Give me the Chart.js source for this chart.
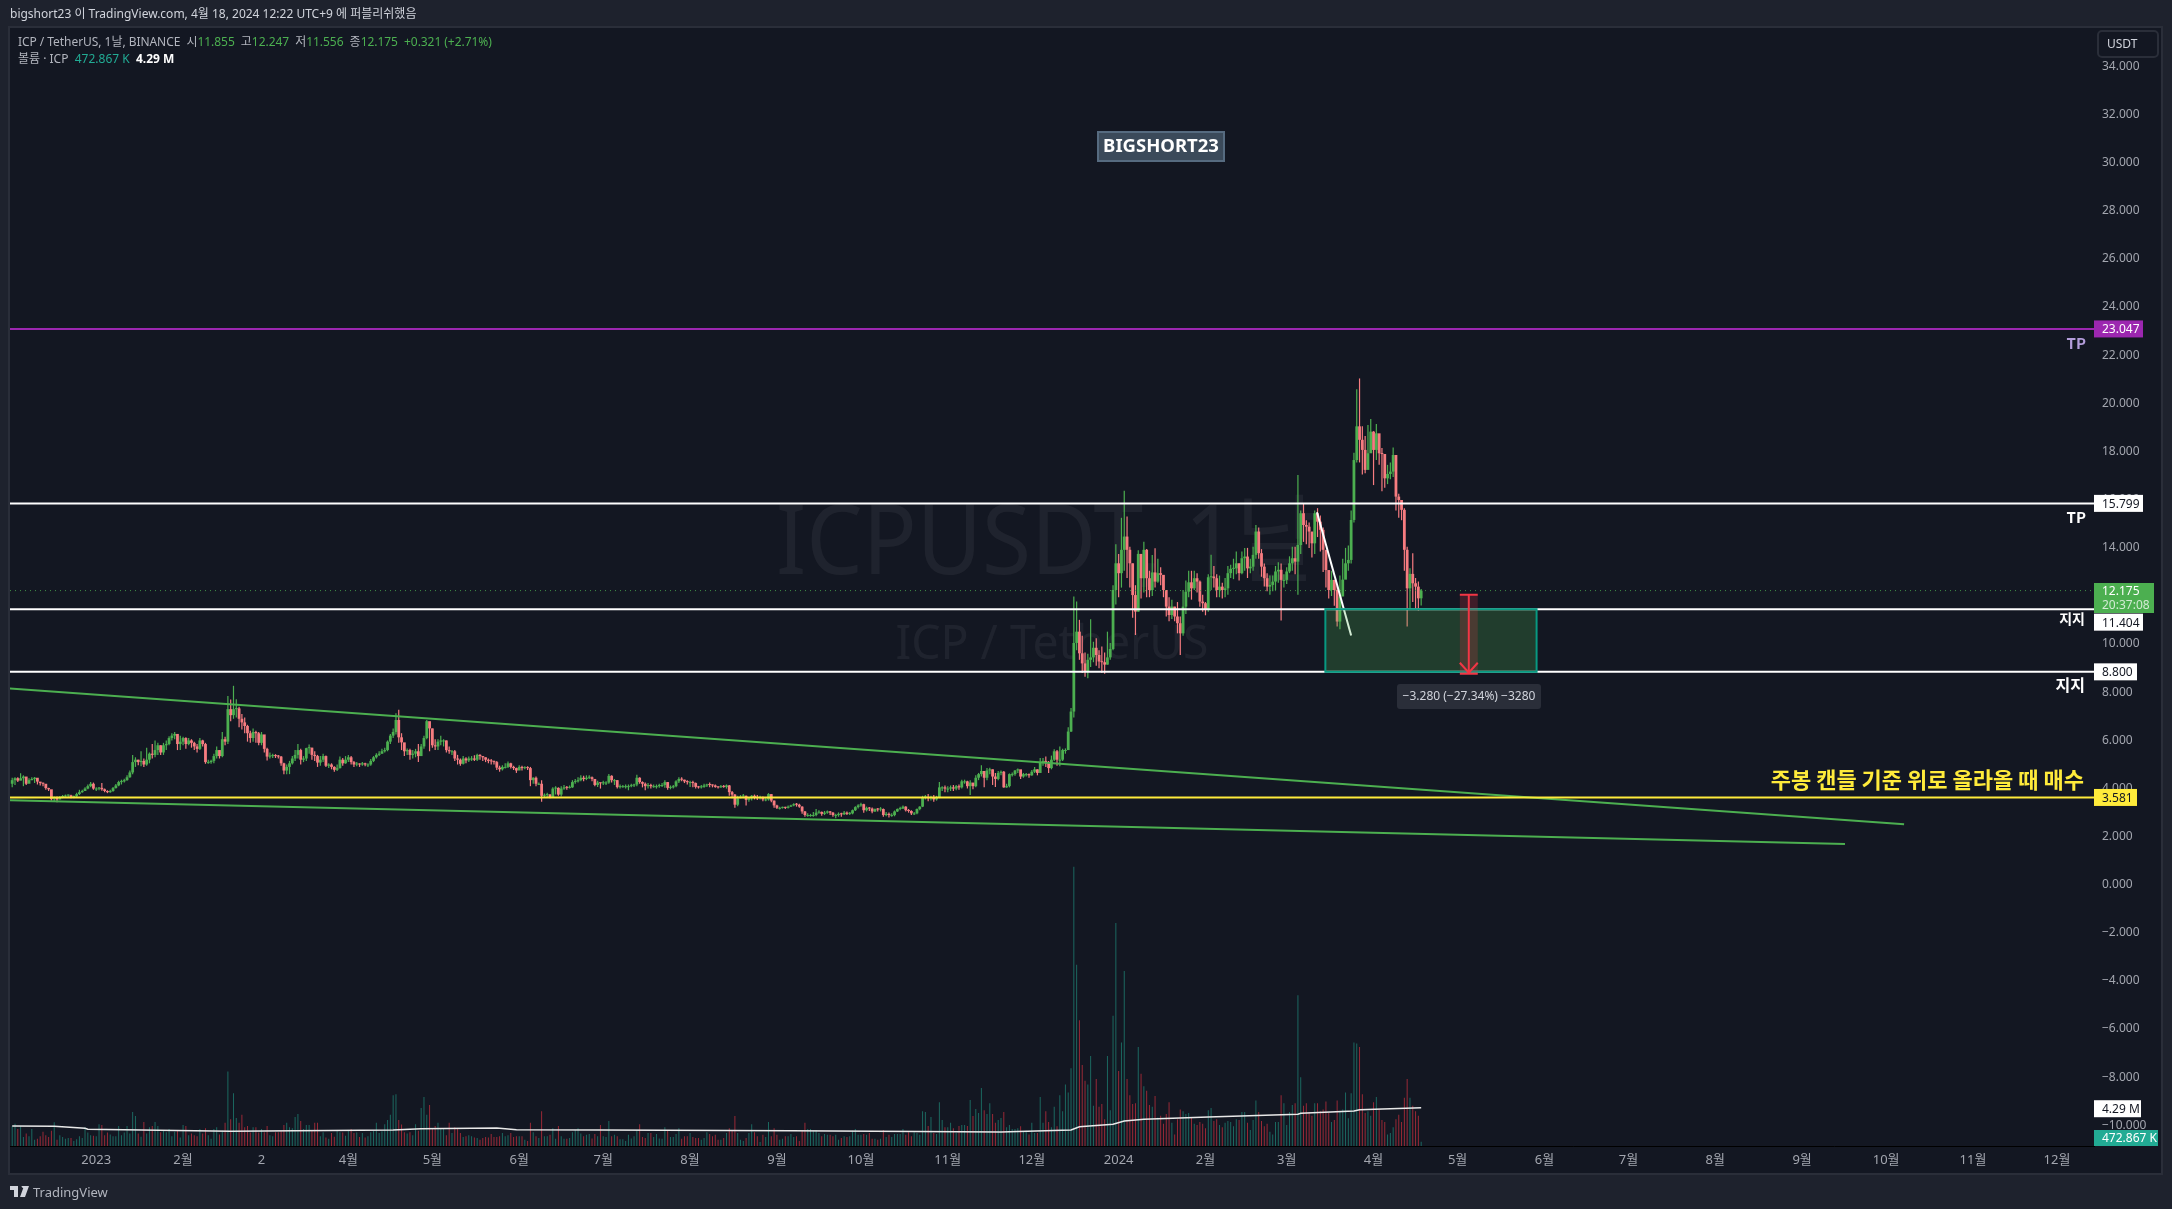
<!DOCTYPE html>
<html lang="ko"><head><meta charset="utf-8">
<script src="https://cdn.jsdelivr.net/npm/chart.js@4/dist/chart.umd.min.js"></script>
<style>
html,body{margin:0;padding:0;background:#1e222d;width:2172px;height:1209px;overflow:hidden;font-family:"Noto Sans","Noto Sans CJK KR",sans-serif}
#pane{position:absolute;left:8px;top:26px;width:2151px;height:1145px;border:2px solid #2a2e39;background:#131722}
canvas{position:absolute;left:0;top:0}
.t{position:absolute;white-space:pre;font-size:12px;line-height:16px;color:#b2b5be}
.g{color:#4caf50}.u{color:#22ab94}
</style></head><body>
<div id="pane"></div>
<canvas id="c" width="2172" height="1209"></canvas>
<div class="t" style="left:10px;top:6px;color:#d1d4dc">bigshort23 이 TradingView.com, 4월 18, 2024 12:22 UTC+9 에 퍼블리쉬했음</div>
<div class="t" style="left:18px;top:34px;letter-spacing:-.05px">ICP / TetherUS, 1날, BINANCE  시<span class="g">11.855</span>  고<span class="g">12.247</span>  저<span class="g">11.556</span>  종<span class="g">12.175</span>  <span class="g">+0.321 (+2.71%)</span></div>
<div class="t" style="left:18px;top:51px">볼륨 · ICP  <span class="u">472.867 K</span>  <b style="color:#fff">4.29 M</b></div>
<svg style="position:absolute;left:10px;top:1186px" width="20" height="12" viewBox="0 0 20 12"><path fill="#d1d4dc" d="M0 0h8v11H4V4H0zM9 0h2.5a2 2 0 1 1 0 .1zM14 0h5l-4 11h-5z"/></svg>
<div class="t" style="left:33px;top:1184px;font-size:13px;color:#b2b5be">TradingView</div>
<script>
const closes=[4.30,4.38,4.28,4.38,4.45,4.15,4.30,4.35,4.40,4.24,4.18,4.15,3.97,3.92,3.51,3.58,3.50,3.60,3.62,3.66,3.67,3.60,3.63,3.72,3.80,3.85,3.95,4.05,4.15,3.95,3.95,
3.98,3.92,3.85,3.80,3.85,3.97,4.08,4.22,4.25,4.30,
4.42,4.62,5.05,5.15,5.05,5.10,4.95,5.15,5.40,5.35,
5.55,5.75,5.45,5.75,5.80,6.05,6.15,6.22,5.80,5.90,
6.05,5.80,5.95,5.85,5.70,5.60,5.95,5.80,5.05,5.05,
5.10,5.30,5.55,5.30,6.00,5.90,7.25,7.00,7.25,7.28,
6.85,6.70,6.55,6.25,6.05,6.30,6.25,5.85,6.20,5.60,
5.28,5.30,5.32,5.30,5.28,5.00,4.70,4.85,5.00,5.20,
5.35,5.55,5.15,5.20,5.63,5.65,5.35,5.30,5.03,5.15,
5.30,4.90,4.95,4.85,4.73,4.80,5.15,5.00,5.15,5.25,
5.05,4.95,4.98,4.95,5.00,4.95,4.95,5.10,5.25,5.35,
5.40,5.50,5.55,5.90,6.15,6.30,6.80,6.08,5.87,5.50,
5.55,5.35,5.40,5.50,5.30,5.70,6.05,6.75,6.45,5.75,
5.70,5.90,5.95,5.95,5.55,5.50,5.50,5.20,5.15,4.98,
5.20,5.12,5.20,5.20,5.15,5.35,5.30,5.25,5.15,5.10,
5.08,5.05,4.82,4.75,4.85,4.85,5.00,4.85,4.80,4.70,
4.85,4.80,4.82,4.80,4.30,4.40,4.15,4.15,3.65,3.68,
3.70,3.60,3.95,3.98,3.70,3.95,4.00,3.98,4.00,4.22,
4.25,4.30,4.40,4.35,4.40,4.42,4.35,4.10,4.20,4.17,
4.20,4.20,4.48,4.30,4.30,4.01,4.05,4.05,4.05,4.05,
4.08,4.12,4.40,4.22,4.15,4.05,4.10,4.05,4.05,4.05,
4.10,4.10,4.22,3.98,4.00,4.05,4.25,4.35,4.32,4.25,
4.22,4.22,4.18,4.02,4.00,4.02,4.08,4.12,4.10,4.08,
4.02,4.00,4.05,4.02,4.08,3.80,3.70,3.28,3.55,3.62,
3.65,3.48,3.55,3.65,3.60,3.55,3.58,3.50,3.50,3.72,
3.45,3.25,3.15,3.15,3.17,3.15,3.20,3.25,3.30,3.28,
3.20,3.00,2.85,2.85,2.85,2.85,2.95,2.98,2.90,2.95,
3.00,2.95,2.85,2.85,2.90,2.88,2.95,2.90,2.92,3.05,
3.18,3.25,3.30,3.05,3.15,3.12,3.00,3.10,3.08,3.10,
2.85,2.90,2.85,2.85,3.00,3.10,3.12,3.20,3.05,3.02,
2.92,2.92,3.10,3.20,3.58,3.60,3.55,3.58,3.50,3.60,
4.00,4.00,3.95,3.95,4.00,3.95,4.05,4.00,4.25,4.25,
4.05,4.20,4.05,4.40,4.55,4.68,4.40,4.70,4.75,4.45,
4.35,4.60,4.65,4.00,4.05,4.55,4.55,4.70,4.75,4.45,
4.55,4.55,4.50,4.65,4.75,4.60,5.05,5.10,5.00,4.80,
5.15,5.50,5.15,5.15,5.55,5.55,6.32,7.15,10.00,10.47,
9.57,9.15,8.81,9.30,9.40,9.80,9.50,9.23,9.20,9.10,
9.40,9.75,12.20,13.31,12.90,13.87,14.42,13.87,13.31,11.99,
11.30,13.70,12.69,13.87,12.69,12.20,12.93,12.55,12.90,12.83,
12.20,11.51,11.16,11.51,11.10,10.82,10.40,11.51,12.13,12.52,
12.27,12.69,12.55,11.72,11.65,11.40,12.73,12.76,12.69,12.20,
12.34,12.20,12.27,12.90,13.08,13.10,13.31,12.90,13.52,13.59,
13.10,13.17,13.66,14.63,13.73,13.17,12.69,12.34,12.41,12.55,
12.97,13.04,12.62,12.62,12.97,13.31,13.52,13.38,14.07,15.39,
14.90,14.83,14.63,14.14,15.39,15.04,14.70,13.87,13.03,12.20,
12.62,12.20,10.89,11.93,12.63,13.31,13.45,15.11,17.60,19.00,
18.44,18.02,17.19,17.88,18.78,18.02,18.71,17.88,17.85,16.84,
17.02,17.12,17.81,16.08,15.94,15.53,13.87,12.27,12.87,12.48,
12.34,11.855,12.175];
const opens=[4.15].concat(closes.slice(0,-1));
const highs=[4.40,4.42,4.42,4.59,4.50,4.35,4.38,4.42,4.43,4.28,4.22,
4.20,4.00,3.98,3.60,3.62,3.62,3.64,3.68,3.70,3.70,
3.69,3.66,3.78,3.90,3.90,4.00,4.12,4.22,4.20,4.00,
4.02,4.18,3.95,3.88,3.90,4.02,4.14,4.28,4.32,4.36,
4.50,4.70,5.35,5.25,5.15,5.50,5.20,5.65,5.45,5.80,
5.95,5.85,5.75,5.85,5.95,6.12,6.25,6.30,6.20,6.15,
6.10,6.08,6.05,6.00,5.90,5.80,6.05,5.98,5.85,5.15,
5.15,5.40,5.70,5.55,6.30,6.10,7.80,7.65,8.22,7.66,
7.35,7.05,6.90,6.60,6.35,6.45,6.35,6.30,6.30,5.95,
5.65,5.45,5.40,5.38,5.35,5.30,5.02,4.95,5.10,5.30,
5.55,5.80,5.60,5.30,5.65,5.78,5.65,5.50,5.35,5.30,
5.40,5.32,5.00,5.00,4.88,4.95,5.28,5.22,5.30,5.35,
5.30,5.10,5.05,5.00,5.05,5.02,5.00,5.18,5.30,5.42,
5.50,5.60,5.65,5.95,6.22,6.45,7.08,7.22,6.25,5.70,
5.62,5.60,5.55,5.60,5.80,5.80,6.15,6.80,6.50,6.45,
6.00,6.00,6.15,6.00,5.95,5.70,5.55,5.55,5.35,5.20,
5.30,5.25,5.28,5.30,5.33,5.40,5.38,5.30,5.25,5.20,
5.18,5.12,5.10,4.90,4.92,5.00,5.08,5.02,4.90,4.82,
4.92,4.90,4.88,4.88,4.85,4.42,4.45,4.20,4.30,3.75,
3.78,3.72,4.00,4.05,4.00,4.05,4.10,4.06,4.08,4.30,
4.35,4.42,4.50,4.48,4.50,4.50,4.45,4.35,4.28,4.20,
4.27,4.25,4.56,4.50,4.35,4.30,4.12,4.10,4.12,4.12,
4.15,4.15,4.52,4.42,4.25,4.20,4.18,4.15,4.12,4.12,
4.15,4.18,4.30,4.22,4.08,4.10,4.30,4.42,4.42,4.32,
4.30,4.28,4.28,4.20,4.06,4.10,4.15,4.15,4.20,4.12,
4.12,4.05,4.10,4.10,4.12,4.10,3.85,3.72,3.65,3.68,
3.72,3.66,3.58,3.68,3.70,3.68,3.65,3.62,3.56,3.76,
3.72,3.45,3.28,3.20,3.20,3.20,3.25,3.28,3.34,3.35,
3.32,3.22,3.02,2.92,2.90,2.98,3.10,3.05,3.00,3.02,
3.04,3.02,2.98,2.90,2.96,2.95,3.02,3.00,2.98,3.08,
3.22,3.30,3.36,3.32,3.20,3.18,3.16,3.12,3.14,3.18,
3.12,2.98,2.96,2.92,3.04,3.12,3.20,3.25,3.22,3.10,
3.05,2.98,3.12,3.22,3.65,3.68,3.72,3.65,3.68,3.65,
4.22,4.05,4.08,4.05,4.08,4.10,4.10,4.12,4.32,4.32,
4.28,4.30,4.18,4.50,4.60,4.92,4.68,4.80,4.82,4.75,
4.60,4.68,4.70,4.68,4.15,4.58,4.62,4.72,4.78,4.72,
4.60,4.60,4.58,4.72,4.85,4.75,5.22,5.22,5.28,5.10,
5.32,5.58,5.55,5.70,5.60,5.62,6.50,7.30,11.93,11.72,
10.96,10.30,9.60,9.55,10.98,10.05,10.20,9.70,9.85,9.60,
10.47,10.00,12.40,14.10,13.70,15.20,16.32,15.25,14.00,13.30,
12.40,13.85,13.60,14.21,13.90,13.00,13.65,13.93,13.50,13.15,
12.80,12.20,11.90,11.80,11.50,11.70,11.10,12.20,12.60,13.00,
13.00,13.00,12.90,12.60,12.00,11.70,12.85,13.66,13.20,12.85,
12.80,12.50,12.70,13.20,13.25,13.50,13.80,13.30,13.80,13.95,
13.95,13.50,14.00,14.90,14.80,13.90,13.30,12.90,12.80,12.80,
13.20,13.35,13.30,12.85,13.15,13.60,14.00,14.00,16.98,15.50,
15.80,15.10,15.00,14.60,15.50,15.60,15.30,14.80,13.80,12.85,
13.00,12.50,12.40,12.80,13.50,13.95,14.05,15.50,17.90,20.54,
20.99,19.00,18.60,19.06,19.30,18.80,19.10,18.40,18.10,17.30,
17.40,17.50,18.12,16.20,16.20,15.80,15.60,14.00,13.10,13.73,
12.70,12.55,12.247];
const lows=[4.00,4.10,4.22,4.30,4.05,4.10,4.25,4.30,4.18,4.12,4.08,
4.05,3.90,3.85,3.45,3.40,3.38,3.50,3.55,3.56,3.60,
3.55,3.55,3.60,3.68,3.78,3.85,3.92,4.00,3.90,3.85,
3.88,3.86,3.80,3.76,3.78,3.82,3.95,4.05,4.12,4.20,
4.28,4.40,4.55,4.85,4.92,4.88,4.85,4.90,5.00,5.20,
5.25,5.35,5.35,5.35,5.55,5.75,5.95,6.00,5.55,5.55,
5.75,5.60,5.75,5.65,5.55,5.45,5.55,5.70,4.98,4.98,
4.98,5.00,5.20,5.20,5.25,5.75,5.80,6.75,6.85,6.90,
6.50,6.40,6.25,5.90,5.85,5.90,5.85,5.75,5.75,5.45,
5.12,5.20,5.22,5.22,5.20,4.90,4.55,4.55,4.55,4.95,
5.10,5.20,4.95,5.05,5.10,5.40,5.15,5.10,4.85,4.90,
5.05,4.85,4.80,4.75,4.65,4.68,4.78,4.90,4.98,5.05,
4.95,4.85,4.88,4.85,4.90,4.88,4.85,4.90,5.05,5.20,
5.30,5.40,5.45,5.50,5.80,6.05,6.20,5.85,5.55,5.30,
5.35,5.15,5.20,5.25,5.05,5.30,5.60,6.00,5.50,5.65,
5.55,5.55,5.75,5.70,5.45,5.40,5.35,5.10,4.95,4.90,
4.95,5.00,5.05,5.10,5.10,5.10,5.15,5.10,5.05,5.00,
4.95,4.95,4.72,4.65,4.70,4.78,4.80,4.78,4.72,4.60,
4.72,4.70,4.75,4.72,4.05,4.15,4.05,4.10,3.40,3.60,
3.58,3.55,3.58,3.70,3.65,3.62,3.90,3.90,3.95,3.98,
4.15,4.20,4.25,4.25,4.30,4.35,4.25,4.05,4.02,3.95,
4.10,4.10,4.15,4.20,4.10,3.95,3.95,3.98,3.95,3.88,
4.00,4.02,4.05,4.15,4.00,3.88,3.95,3.95,3.98,3.95,
3.98,4.02,3.98,3.90,3.92,3.95,4.00,4.18,4.25,4.18,
4.12,4.02,4.00,3.95,3.95,3.95,3.98,4.02,4.00,4.00,
3.98,3.95,3.98,3.98,3.95,3.65,3.55,3.15,3.22,3.55,
3.55,3.25,3.40,3.45,3.50,3.48,3.50,3.42,3.42,3.45,
3.38,3.15,3.10,3.08,3.12,3.10,3.12,3.18,3.22,3.20,
3.15,2.90,2.78,2.78,2.78,2.78,2.80,2.90,2.82,2.85,
2.90,2.85,2.78,2.72,2.78,2.78,2.85,2.85,2.85,2.88,
3.02,3.12,3.20,2.95,3.00,3.02,2.92,2.98,3.00,3.00,
2.78,2.80,2.75,2.78,2.80,2.98,3.05,3.10,3.00,2.95,
2.85,2.85,2.88,3.05,3.18,3.50,3.42,3.45,3.40,3.45,
3.55,3.85,3.80,3.80,3.85,3.85,3.88,3.90,3.95,4.15,
3.95,3.68,3.92,4.00,4.30,4.45,4.00,4.30,4.55,4.10,
4.02,4.30,4.50,3.98,3.98,4.00,4.45,4.48,4.60,4.35,
4.40,4.45,4.40,4.48,4.60,4.50,4.60,4.90,4.85,4.60,
4.75,5.10,4.90,4.88,5.10,5.40,5.55,6.30,6.90,9.70,
9.30,8.75,8.60,8.53,9.00,9.20,9.05,8.95,8.75,8.72,
9.10,9.30,9.70,11.60,11.90,12.30,13.00,12.70,12.30,11.05,
10.33,11.30,11.85,12.10,11.90,11.90,11.95,12.30,12.50,12.40,
11.90,11.10,10.90,11.00,10.90,10.40,9.50,10.30,11.20,11.90,
11.80,12.20,12.10,11.50,11.30,11.15,11.30,12.20,12.30,11.90,
11.90,11.85,11.90,12.00,12.70,12.65,12.85,12.60,12.85,13.00,
12.70,12.90,13.00,13.50,13.50,12.75,12.35,12.15,12.00,12.15,
12.20,12.50,10.93,12.30,12.45,12.90,13.00,12.85,12.00,13.70,
14.20,14.10,13.95,13.55,13.70,14.40,13.80,12.95,12.30,11.85,
11.95,11.55,10.68,10.57,12.00,12.70,13.00,13.30,15.00,17.50,
17.50,17.00,17.05,17.30,17.90,16.56,17.60,17.40,16.30,16.45,
16.60,16.80,16.90,15.50,15.20,15.10,13.00,10.68,11.40,11.70,
11.40,11.35,11.556];
const volumes=[2.2,2.5,1.9,2.2,1,1.4,1.1,1.9,.7,.8,
1.1,1.6,1.2,1,1.7,2.65,.7,1.2,1,.8,
.9,.9,.55,.75,1.1,.9,2.1,1.5,1.2,1.15,
1.1,2.45,2.35,1.2,1.5,1.3,1.1,1.1,2.25,1.2,
1.5,2.25,1.4,3.8,3.35,1.4,1.05,2.7,1.4,2.1,
2.25,2.7,2.25,1.55,1.7,1.55,1.9,1.1,1.6,1.7,
.95,2.35,2.25,1.2,1.4,1.2,1.1,1.9,1.4,2,
1.2,.8,1.9,2.1,1.3,1.7,2.6,8.35,3,5.9,
3.15,2.6,3.5,2.1,2.25,1.5,2.1,2.1,1.5,1.9,
1.55,2.25,1.2,1.1,1.55,1.55,1.7,2.35,2.6,2.1,
2,3.25,3.6,2.8,1.9,2.35,2.35,1.8,2.6,2.6,
1.1,1.55,.95,.8,1.45,1.05,1.7,1.55,1.5,1.15,
1.7,1.9,1.45,1.5,1,1.45,.95,1.1,1.55,1.7,
2.6,1.45,1.65,2.45,2.9,3.5,5.7,5.8,2.9,2.4,
1.55,1.4,1.55,1.2,2.45,1.7,4.25,5.5,3.5,4.6,
2,2.25,2.6,1.9,2,1.2,2.6,1.45,2.1,1.9,
1.45,1,1.1,1.2,1.1,.95,.9,.7,.9,1,
.95,1.35,1,1,1.1,1.45,1.1,1.2,1.45,1,
1.1,1.1,1.1,.7,.55,2.6,1.55,1.1,.9,3.9,
1.1,1.1,1.25,2,.8,2.25,1.1,.8,.8,.9,
1.55,1.8,2,1.4,1.1,1.25,1.35,.85,1.35,1.1,
2.35,1.1,1,2.8,1.1,1.25,1.1,.75,.75,.55,
1.25,.85,1.1,1.8,2.45,1,.9,1.45,1.45,1,
1.35,.85,.8,2.1,1.8,1,1,1.35,2,.8,
1.1,1.1,1.45,1,.9,.9,.7,.9,1.55,1.35,
1.1,1.25,.7,.7,.9,1.45,2,1.8,3.35,1.45,
.7,.55,.9,1.45,2.45,1.55,1.1,.45,1.25,1,
2.7,1.1,2,1.25,.7,.8,1.1,1.1,1.35,1,
1.1,.55,1.8,2.6,1.9,1.9,1.7,1.8,1.45,1.1,
1.35,1.25,1.25,1.1,1.25,.7,.9,1.1,1,1.1,
1.7,1.9,1.25,1.25,1.35,1.25,1.45,.8,.8,.7,
.8,1.8,1,1.25,1,1.35,1.35,1.35,1.9,1.25,
1.55,1.1,1.55,1.45,1.25,3.9,3.8,2.25,3.25,1.45,
1.35,4.9,2.9,2.1,2.1,2.6,2,1.45,2.25,2.35,
2.35,2.25,5.15,3.35,4.15,3.7,6.5,4,3.6,4.8,
3.6,2.6,2.9,3.15,3.8,2.1,2.35,1.9,1.9,2,
2.2,1.6,1.7,1.3,2.6,1.45,1.45,5.5,2.6,3.9,
2.7,2.1,4.4,2.2,5.7,3.9,6.9,6,8.7,31.3,
20.3,14.1,9.07,7.3,6.9,10.1,4.5,7.5,4.4,4.7,
3,10.1,4,14.6,25,8.4,11.6,19.6,7.5,5.7,
4.7,4.8,11.1,8.1,6.7,6.2,4.6,4.4,5.6,3.2,
3.4,2.5,3.6,4.9,2.6,1.3,3,4.1,3.9,3.6,
3.7,3.2,2.5,2.35,2.7,2.5,2,4,4.25,2.8,
3,2.35,2.1,2.6,2.8,2.7,2.2,3,2.9,3.8,
3.8,2.6,1.8,2.9,5.1,3.8,2.8,2.2,2.5,1.6,
1.3,2.7,2.7,5.7,4.8,2.35,3.8,4.6,4.8,16.9,
7.7,4.5,4.8,3.8,3.4,4.8,4.8,3.9,4.1,5,
3.7,2.7,2.9,5.1,3.9,4.1,6,3.1,5.9,11.6,
11.5,11.1,5.8,3.7,3.9,3.4,4.9,5.5,4.1,2.9,
2.7,1.3,1.45,2.1,3,3.5,2.7,5.4,7.5,5.4,
4.5,3.9,3.4,.473];
const maIndex=[0,15,26,27,78,136,146,173,180,210,278,353,378,381,393,397,404,427,459,460,479,481,503];
const maValues=[2.24,2.2,1.98,1.87,1.65,1.79,1.94,2.02,1.83,1.8,1.7,1.57,1.79,2.16,2.43,2.8,2.99,3.25,3.55,3.66,3.92,4.06,4.29];
const timeIndex=[30,61,89,120,150,181,211,242,273,303,334,364,395,426,455,486,516,547,577,608,639,669,700,730];
const timeLabels=['2023','2월','2','4월','5월','6월','7월','8월','9월','10월','11월','12월','2024','2월','3월','4월','5월','6월','7월','8월','9월','10월','11월','12월'];
const priceTicks=[34,32,30,28,26,24,22,20,18,16,14,12,10,8,6,4,2,0,-2,-4,-6,-8,-10];
const levelPrices=[23.047,15.799,11.404,8.8,3.581];
const levelColors=['#9c27b0','#ffffff','#ffffff','#ffffff','#ffeb3b'];
const lastPrice=12.175, lastVolume=0.473, lastMA=4.29;
const trendUpper=[[-0.8,8.105],[675.4,2.47]];
const trendLower=[[-0.8,3.47],[654.3,1.65]];
const whiteDiagonal=[[465.8,15.43],[478,10.31]];
const zoneIndex=[468.8,544.2], measureIndex=[516.8,520,523.2], measurePrice=[12.0,8.72];

const FF='"Noto Sans","Noto Sans CJK KR",sans-serif';
const UP='#4caf50',DN='#f77c80',VUP='rgba(34,171,148,.55)',VDN='rgba(242,54,69,.6)';
const isUp=closes.map((c,i)=>c>=opens[i]);
const X0=-0.785,X1=743.2;
const seg=p=>p.map(a=>({x:a[0],y:a[1]}));
const lineDs=(data,color,w,extra)=>Object.assign({type:'line',data,borderColor:color,borderWidth:w,pointRadius:0,tension:0,yAxisID:'y',xAxisID:'x',order:2},extra||{});

function tag(ctx,yc,x0,x1,h,bg,fg,txt,bold){
  ctx.fillStyle=bg;ctx.fillRect(x0,yc-h/2,x1-x0,h);
  ctx.fillStyle=fg;ctx.font=(bold?'bold ':'')+'12px '+FF;ctx.textAlign='left';ctx.textBaseline='middle';
  ctx.fillText(txt,x0+8,yc+1);
}
function note(ctx,txt,xr,yc,size,color){
  ctx.fillStyle=color;ctx.font='bold '+size+'px "Noto Sans CJK KR",'+FF;ctx.textAlign='right';ctx.textBaseline='middle';ctx.fillText(txt,xr,yc);
}
function wm(c,txt,x,y,size,sx){c.save();c.translate(x,y);c.scale(sx,1);c.font=size+'px '+FF;c.fillText(txt,0,0);c.restore();}
const overlay={id:'overlay',
 beforeDatasetsDraw(ch){const c=ch.ctx;c.save();
  c.fillStyle='rgba(255,255,255,.055)';c.textAlign='center';c.textBaseline='alphabetic';
  wm(c,'ICPUSDT, 1날',1047,574,96,.93);
  wm(c,'ICP / TetherUS',1052,659,48,.965);
  c.restore();},
 afterDatasetsDraw(ch){const c=ch.ctx,x=ch.scales.x,y=ch.scales.y;c.save();
  const zx0=x.getPixelForValue(zoneIndex[0]),zx1=x.getPixelForValue(zoneIndex[1]),zy0=y.getPixelForValue(levelPrices[2]),zy1=y.getPixelForValue(levelPrices[3]);
  c.fillStyle='rgba(76,175,80,.25)';c.fillRect(zx0,zy0,zx1-zx0,zy1-zy0);
  c.strokeStyle='#089981';c.lineWidth=2;c.strokeRect(zx0,zy0,zx1-zx0,zy1-zy0);
  const mx0=x.getPixelForValue(measureIndex[0]),mx=x.getPixelForValue(measureIndex[1]),mx1=x.getPixelForValue(measureIndex[2]),my0=y.getPixelForValue(measurePrice[0]),my1=y.getPixelForValue(measurePrice[1]);
  c.fillStyle='rgba(242,54,69,.2)';c.fillRect(mx0,my0,mx1-mx0,my1-my0);
  c.strokeStyle='#f23645';c.lineWidth=2;c.beginPath();
  c.moveTo(mx0,my0);c.lineTo(mx1,my0);c.moveTo(mx,my0);c.lineTo(mx,my1);
  c.moveTo(mx0,my1);c.lineTo(mx1,my1);c.moveTo(mx0,my1-11);c.lineTo(mx,my1-1);c.lineTo(mx1,my1-11);c.stroke();
  c.fillStyle='#2a2e39';c.beginPath();c.roundRect(1397,684,144,25,3);c.fill();
  c.fillStyle='#d1d4dc';c.font='12px '+FF;c.textAlign='center';c.textBaseline='middle';c.fillText('−3.280 (−27.34%) −3280',1469,697);
  c.fillStyle='#3b4a5a';c.fillRect(1097,131,128,31);c.strokeStyle='#566b80';c.lineWidth=2;c.strokeRect(1098,132,126,29);
  c.fillStyle='#fff';c.font='bold 18.5px '+FF;c.textAlign='center';c.fillText('BIGSHORT23',1161,147);
  note(c,'TP',2086,343,15,'#b39ddb');note(c,'TP',2086,517,15,'#ffffff');
  note(c,'지지',2085,619,14,'#ffffff');note(c,'지지',2085,685,16,'#ffffff');
  note(c,'주봉 캔들 기준 위로 올라올 때 매수',2084,780,22,'#ffeb3b');
  c.restore();},
 afterDraw(ch){const c=ch.ctx,y=ch.scales.y,v=ch.scales.v;c.save();
  tag(c,y.getPixelForValue(levelPrices[0]),2094,2143,17,'#9c27b0','#fff','23.047');
  tag(c,y.getPixelForValue(levelPrices[1]),2094,2143,17,'#fff','#131722','15.799');
  tag(c,y.getPixelForValue(levelPrices[3]),2094,2137,17,'#fff','#131722','8.800');
  tag(c,y.getPixelForValue(levelPrices[4]),2094,2137,17,'#ffeb3b','#131722','3.581');
  const ly=y.getPixelForValue(lastPrice);
  c.fillStyle=UP;c.fillRect(2094,583,60,30);
  c.fillStyle='#fff';c.font='12px '+FF;c.textAlign='left';c.textBaseline='middle';c.fillText('12.175',2102,ly+1);
  c.fillStyle='rgba(255,255,255,.75)';c.fillText('20:37:08',2102,606);
  tag(c,y.getPixelForValue(levelPrices[2])+13,2094,2143,17,'#fff','#131722','11.404');
  tag(c,v.getPixelForValue(lastMA)+1,2094,2141,17,'#fff','#131722','4.29 M');
  tag(c,1138,2094,2158,16,'#22ab94','#fff','472.867 K');
  c.fillStyle='#131722';c.strokeStyle='#2a2e39';c.lineWidth=2;c.beginPath();c.roundRect(2098,31,60,26,4);c.fill();c.stroke();
  c.fillStyle='#d1d4dc';c.font='12px '+FF;c.textAlign='left';c.textBaseline='middle';c.fillText('USDT',2107,44.5);
  c.restore();}
};
const xs=closes.map((_,i)=>i);
new Chart(document.getElementById('c'),{
 data:{datasets:[
  {type:'bar',data:volumes.map((b,i)=>({x:xs[i],y:b})),backgroundColor:isUp.map(u=>u?VUP:VDN),barThickness:1,grouped:false,inflateAmount:0,yAxisID:'v',xAxisID:'x',order:9},
  {type:'bar',data:xs.map(i=>({x:i,y:[lows[i],highs[i]]})),backgroundColor:isUp.map(u=>u?UP:DN),barThickness:1.2,grouped:false,inflateAmount:0,yAxisID:'y',xAxisID:'x',order:8},
  {type:'bar',data:xs.map(i=>({x:i,y:[opens[i],closes[i]]})),backgroundColor:isUp.map(u=>u?UP:DN),barThickness:2.8,minBarLength:1,grouped:false,inflateAmount:0,yAxisID:'y',xAxisID:'x',order:7},
  lineDs(maIndex.map((m,k)=>({x:m,y:maValues[k]})),'#e8e8e8',1.5,{yAxisID:'v',order:6}),
  lineDs(seg([[X0,lastPrice],[X1,lastPrice]]),'rgba(76,175,80,.8)',1,{borderDash:[1,4],order:5}),
  lineDs(seg(trendUpper),UP,2),lineDs(seg(trendLower),UP,2),
  ...levelPrices.map((p,k)=>lineDs(seg([[X0,p],[X1,p]]),levelColors[k],2,{order:1})),
  lineDs(seg(whiteDiagonal),'#ffffff',2,{order:1})
 ]},
 options:{responsive:false,animation:false,events:[],devicePixelRatio:1,
  layout:{padding:{left:10,top:28,right:11,bottom:36}},
  plugins:{legend:{display:false},tooltip:{enabled:false}},
  scales:{
   x:{type:'linear',position:'bottom',offset:false,min:X0,max:X1,grid:{display:false,drawTicks:false,offset:false},border:{display:true,color:'#000000',width:1},
      afterBuildTicks:s=>{s.ticks=timeIndex.map(value=>({value}));},
      afterFit:s=>{s.height=27;},
      ticks:{autoSkip:false,maxRotation:0,padding:6,color:'#a3a6af',font:{family:FF,size:13},callback:v=>timeLabels[timeIndex.indexOf(v)]}},
   y:{type:'linear',position:'right',min:-10.90,max:35.55,grid:{display:false,drawTicks:false},border:{display:false},
      afterBuildTicks:s=>{s.ticks=priceTicks.map(value=>({value}));},
      afterFit:s=>{s.width=67;},
      ticks:{autoSkip:false,crossAlign:'near',padding:8,labelOffset:1,color:'#a3a6af',font:{family:FF,size:12},callback:v=>(v<0?'−':'')+Math.abs(v).toFixed(3)}},
   v:{type:'linear',display:false,min:0,max:125.3}
  }},
 plugins:[overlay]
});
</script>
</body></html>
